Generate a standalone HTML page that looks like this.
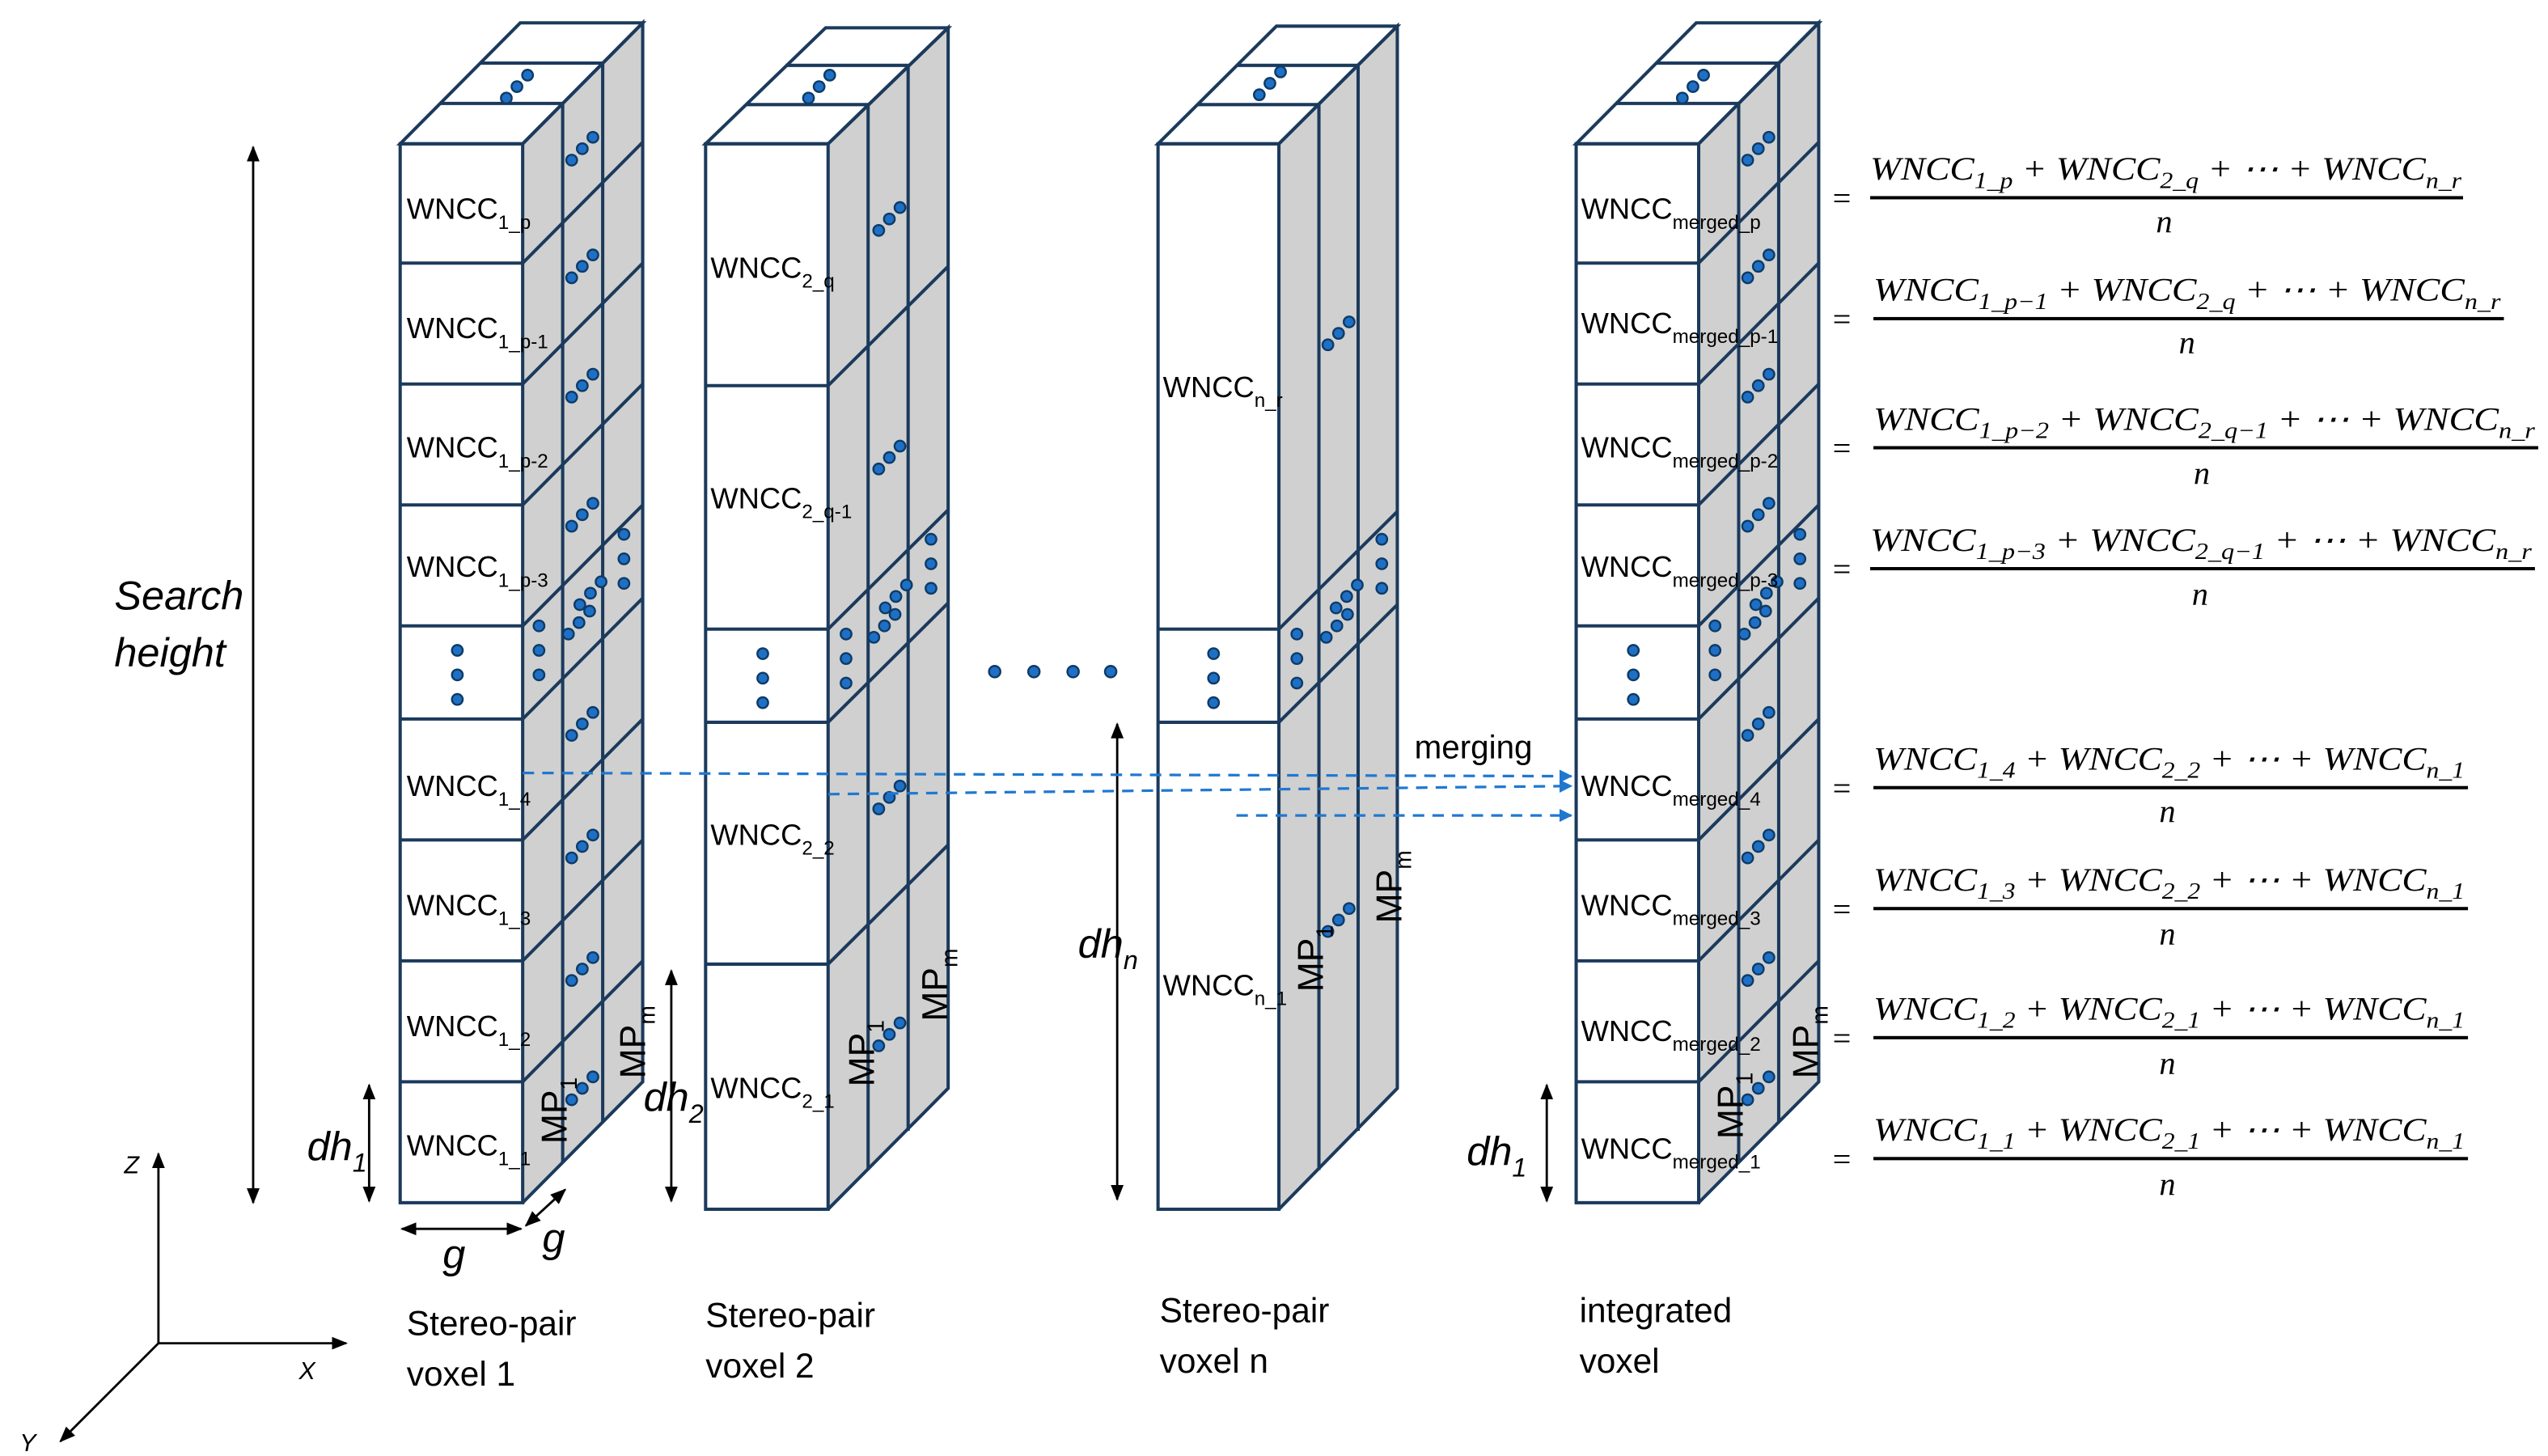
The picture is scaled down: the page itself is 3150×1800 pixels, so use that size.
<!DOCTYPE html>
<html><head><meta charset="utf-8"><style>
html,body{margin:0;padding:0;background:#fff;}
svg{display:block;}
.t{font-family:"Liberation Sans",sans-serif;fill:#000;}
.e{font-family:"Liberation Serif",serif;font-style:italic;fill:#000;}
.ln{stroke:#1b3a5c;stroke-width:2;fill:none;}
</style></head><body>
<svg width="3150" height="1800" viewBox="0 0 1560 891" preserveAspectRatio="none" xmlns="http://www.w3.org/2000/svg">
<defs>
<marker id="ah" viewBox="0 0 10 10" refX="9" refY="5" markerWidth="7" markerHeight="7" orient="auto-start-reverse"><path d="M0,1 L10,5 L0,9 z" fill="#000"/></marker>
<marker id="bh" viewBox="0 0 10 10" refX="9" refY="5" markerWidth="5" markerHeight="5" orient="auto"><path d="M0,0 L10,5 L0,10 z" fill="#1f78d0"/></marker>
<g id="dots3"><circle cx="0" cy="0" r="3.3" fill="#1f6fc5" stroke="#0d3b66" stroke-width="1.2"/><circle cx="6.5" cy="-7" r="3.3" fill="#1f6fc5" stroke="#0d3b66" stroke-width="1.2"/><circle cx="13" cy="-14" r="3.3" fill="#1f6fc5" stroke="#0d3b66" stroke-width="1.2"/></g>
<g id="vdots"><circle cx="0" cy="0" r="3.3" fill="#1f6fc5" stroke="#0d3b66" stroke-width="1.2"/><circle cx="0" cy="15" r="3.3" fill="#1f6fc5" stroke="#0d3b66" stroke-width="1.2"/><circle cx="0" cy="30" r="3.3" fill="#1f6fc5" stroke="#0d3b66" stroke-width="1.2"/></g>
<!-- voxel type A (9 cells) -->
<g id="volA">
<polygon points="320,88 393.5,14 393.5,662 320,736" fill="#d0d0d0"/>
<polygon points="245,88 320,88 393.5,14 318.5,14" fill="#fff"/>
<rect x="245" y="88" width="75" height="648" fill="#fff"/>
<g class="ln">
<polygon points="245,88 320,88 393.5,14 318.5,14"/>
<rect x="245" y="88" width="75" height="648"/>
<polyline points="320,88 393.5,14 393.5,662 320,736"/>
<line x1="269.5" y1="63.3" x2="344.5" y2="63.3"/><line x1="294" y1="38.6" x2="369" y2="38.6"/>
<line x1="344.5" y1="63.3" x2="344.5" y2="711.3"/><line x1="369" y1="38.6" x2="369" y2="686.6"/>
<path d="M245,161H320L393.5,87 M245,235H320L393.5,161 M245,309H320L393.5,235 M245,383H320L393.5,309 M245,440H320L393.5,366 M245,514H320L393.5,440 M245,588H320L393.5,514 M245,662H320L393.5,588"/>
</g>
<use href="#dots3" x="310" y="60"/>
<use href="#dots3" x="350" y="98"/><use href="#dots3" x="350" y="170"/><use href="#dots3" x="350" y="243"/><use href="#dots3" x="350" y="322"/>
<use href="#dots3" x="350" y="450"/><use href="#dots3" x="350" y="525"/><use href="#dots3" x="350" y="600"/><use href="#dots3" x="350" y="673"/>
<use href="#vdots" x="382" y="327"/><use href="#vdots" x="330" y="383"/><use href="#dots3" x="348" y="388"/><use href="#dots3" x="355" y="370"/>
<use href="#vdots" x="280" y="398"/>
</g>
</defs>

<!-- Voxel 1 -->
<use href="#volA"/>
<g class="t" font-size="18">
<text x="249" y="134">WNCC<tspan font-size="12" dy="6">1_p</tspan></text>
<text x="249" y="207">WNCC<tspan font-size="12" dy="6">1_p-1</tspan></text>
<text x="249" y="280">WNCC<tspan font-size="12" dy="6">1_p-2</tspan></text>
<text x="249" y="353">WNCC<tspan font-size="12" dy="6">1_p-3</tspan></text>
<text x="249" y="487">WNCC<tspan font-size="12" dy="6">1_4</tspan></text>
<text x="249" y="560">WNCC<tspan font-size="12" dy="6">1_3</tspan></text>
<text x="249" y="634">WNCC<tspan font-size="12" dy="6">1_2</tspan></text>
<text x="249" y="707">WNCC<tspan font-size="12" dy="6">1_1</tspan></text>
</g>
<g class="t" font-size="22">
<text transform="translate(347,700) rotate(-90)">MP<tspan font-size="14" dy="6">1</tspan></text>
<text transform="translate(395,660) rotate(-90)">MP<tspan font-size="14" dy="6">m</tspan></text>
</g>

<!-- Integrated voxel -->
<use href="#volA" transform="translate(720,0)"/>
<g class="t" font-size="18">
<text x="968" y="134">WNCC<tspan font-size="12" dy="6">merged_p</tspan></text>
<text x="968" y="204">WNCC<tspan font-size="12" dy="6">merged_p-1</tspan></text>
<text x="968" y="280">WNCC<tspan font-size="12" dy="6">merged_p-2</tspan></text>
<text x="968" y="353">WNCC<tspan font-size="12" dy="6">merged_p-3</tspan></text>
<text x="968" y="487">WNCC<tspan font-size="12" dy="6">merged_4</tspan></text>
<text x="968" y="560">WNCC<tspan font-size="12" dy="6">merged_3</tspan></text>
<text x="968" y="637">WNCC<tspan font-size="12" dy="6">merged_2</tspan></text>
<text x="968" y="709">WNCC<tspan font-size="12" dy="6">merged_1</tspan></text>
</g>
<g class="t" font-size="22">
<text transform="translate(1067,697) rotate(-90)">MP<tspan font-size="14" dy="6">1</tspan></text>
<text transform="translate(1113,660) rotate(-90)">MP<tspan font-size="14" dy="6">m</tspan></text>
</g>

<!-- Voxel 2 -->
<g>
<polygon points="507,88 580.5,17 580.5,666 507,740" fill="#d0d0d0"/>
<polygon points="432,88 507,88 580.5,17 505.5,17" fill="#fff"/>
<rect x="432" y="88" width="75" height="652" fill="#fff"/>
<g class="ln">
<polygon points="432,88 507,88 580.5,17 505.5,17"/>
<rect x="432" y="88" width="75" height="652"/>
<polyline points="507,88 580.5,17 580.5,666 507,740"/>
<line x1="456.5" y1="64" x2="531.5" y2="64"/><line x1="481" y1="40" x2="556" y2="40"/>
<line x1="531.5" y1="64" x2="531.5" y2="716"/><line x1="556" y1="40" x2="556" y2="692"/>
<path d="M432,236H507L580.5,163 M432,385H507L580.5,312 M432,442H507L580.5,369 M432,590H507L580.5,517"/>
</g>
<use href="#dots3" x="495" y="60"/>
<use href="#dots3" x="538" y="141"/><use href="#dots3" x="538" y="287"/><use href="#dots3" x="538" y="495"/><use href="#dots3" x="538" y="640"/>
<use href="#vdots" x="570" y="330"/><use href="#vdots" x="518" y="388"/><use href="#dots3" x="535" y="390"/><use href="#dots3" x="542" y="372"/>
<use href="#vdots" x="467" y="400"/>
<g class="t" font-size="18">
<text x="435" y="170">WNCC<tspan font-size="12" dy="6">2_q</tspan></text>
<text x="435" y="311">WNCC<tspan font-size="12" dy="6">2_q-1</tspan></text>
<text x="435" y="517">WNCC<tspan font-size="12" dy="6">2_2</tspan></text>
<text x="435" y="672">WNCC<tspan font-size="12" dy="6">2_1</tspan></text>
</g>
<g class="t" font-size="22">
<text transform="translate(535,665) rotate(-90)">MP<tspan font-size="14" dy="6">1</tspan></text>
<text transform="translate(580,625) rotate(-90)">MP<tspan font-size="14" dy="6">m</tspan></text>
</g>
</g>

<!-- Voxel n -->
<g>
<polygon points="783,88 855.5,16 855.5,666 783,740" fill="#d0d0d0"/>
<polygon points="709,88 783,88 855.5,16 781.5,16" fill="#fff"/>
<rect x="709" y="88" width="74" height="652" fill="#fff"/>
<g class="ln">
<polygon points="709,88 783,88 855.5,16 781.5,16"/>
<rect x="709" y="88" width="74" height="652"/>
<polyline points="783,88 855.5,16 855.5,666 783,740"/>
<line x1="733" y1="64" x2="807.5" y2="64"/><line x1="757.5" y1="40" x2="831.5" y2="40"/>
<line x1="807.5" y1="64" x2="807.5" y2="716"/><line x1="831.5" y1="40" x2="831.5" y2="692"/>
<path d="M709,385H783L855.5,313 M709,442H783L855.5,370"/>
</g>
<use href="#dots3" x="771" y="58"/>
<use href="#dots3" x="813" y="211"/><use href="#dots3" x="813" y="570"/>
<use href="#vdots" x="846" y="330"/><use href="#vdots" x="794" y="388"/><use href="#dots3" x="812" y="390"/><use href="#dots3" x="818" y="372"/>
<use href="#vdots" x="743" y="400"/>
<g class="t" font-size="18">
<text x="712" y="243">WNCC<tspan font-size="12" dy="6">n_r</tspan></text>
<text x="712" y="609">WNCC<tspan font-size="12" dy="6">n_1</tspan></text>
</g>
<g class="t" font-size="22">
<text transform="translate(810,607) rotate(-90)">MP<tspan font-size="14" dy="6">1</tspan></text>
<text transform="translate(858,565) rotate(-90)">MP<tspan font-size="14" dy="6">m</tspan></text>
</g>
</g>

<!-- ellipsis -->
<g fill="#1f6fc5" stroke="#0d3b66" stroke-width="1.2">
<circle cx="609" cy="411" r="3.5"/><circle cx="633" cy="411" r="3.5"/><circle cx="657" cy="411" r="3.5"/><circle cx="680" cy="411" r="3.5"/>
</g>

<!-- dimension arrows -->
<g stroke="#000" stroke-width="1.4" fill="none">
<line x1="155" y1="90" x2="155" y2="736" marker-start="url(#ah)" marker-end="url(#ah)"/>
<line x1="226" y1="664" x2="226" y2="735" marker-start="url(#ah)" marker-end="url(#ah)"/>
<line x1="246" y1="752" x2="319" y2="752" marker-start="url(#ah)" marker-end="url(#ah)"/>
<line x1="322" y1="750" x2="346" y2="728" marker-start="url(#ah)" marker-end="url(#ah)"/>
<line x1="411" y1="594" x2="411" y2="735" marker-start="url(#ah)" marker-end="url(#ah)"/>
<line x1="684" y1="443" x2="684" y2="734" marker-start="url(#ah)" marker-end="url(#ah)"/>
<line x1="947" y1="664" x2="947" y2="735" marker-start="url(#ah)" marker-end="url(#ah)"/>
<line x1="97" y1="822" x2="97" y2="706" marker-end="url(#ah)"/>
<line x1="97" y1="822" x2="212" y2="822" marker-end="url(#ah)"/>
<line x1="97" y1="822" x2="37" y2="882" marker-end="url(#ah)"/>
</g>
<g class="t" font-size="25" font-style="italic">
<text x="70" y="373">Search</text>
<text x="70" y="408">height</text>
<text x="188" y="710">dh<tspan font-size="16" dy="7">1</tspan></text>
<text x="271" y="776">g</text>
<text x="332" y="766">g</text>
<text x="394" y="680">dh<tspan font-size="16" dy="7">2</tspan></text>
<text x="660" y="586">dh<tspan font-size="16" dy="7">n</tspan></text>
<text x="898" y="713">dh<tspan font-size="16" dy="7">1</tspan></text>
</g>
<g class="t" font-size="15" font-style="italic">
<text x="76" y="718">Z</text><text x="183" y="844">X</text><text x="12" y="888">Y</text>
</g>

<!-- merging arrows -->
<g stroke="#1f78d0" stroke-width="1.6" stroke-dasharray="7,5" fill="none">
<line x1="320" y1="473" x2="962" y2="475" marker-end="url(#bh)"/>
<line x1="507" y1="486" x2="962" y2="481" marker-end="url(#bh)"/>
<line x1="757" y1="499" x2="962" y2="499" marker-end="url(#bh)"/>
</g>
<text class="t" x="866" y="464" font-size="20">merging</text>

<!-- captions -->
<g class="t" font-size="21">
<text x="249" y="817">Stereo-pair</text><text x="249" y="848">voxel 1</text>
<text x="432" y="812">Stereo-pair</text><text x="432" y="843">voxel 2</text>
<text x="710" y="809">Stereo-pair</text><text x="710" y="840">voxel n</text>
<text x="967" y="809">integrated</text><text x="967" y="840">voxel</text>
</g>

<!-- equations -->
<g class="e" font-size="20">
<g transform="translate(0,0)">
<text x="1122" y="128" font-style="normal">=</text>
<text x="1145" y="110" textLength="362" lengthAdjust="spacingAndGlyphs">WNCC<tspan font-size="14" dy="5">1_p</tspan><tspan dy="-5"> + WNCC</tspan><tspan font-size="14" dy="5">2_q</tspan><tspan dy="-5"> + ⋯ + WNCC</tspan><tspan font-size="14" dy="5">n_r</tspan></text>
<rect x="1145" y="120" width="363" height="2" fill="#000"/>
<text x="1320" y="142">n</text>
</g>
<g>
<text x="1122" y="202" font-style="normal">=</text>
<text x="1147" y="184" textLength="384" lengthAdjust="spacingAndGlyphs">WNCC<tspan font-size="14" dy="5">1_p−1</tspan><tspan dy="-5"> + WNCC</tspan><tspan font-size="14" dy="5">2_q</tspan><tspan dy="-5"> + ⋯ + WNCC</tspan><tspan font-size="14" dy="5">n_r</tspan></text>
<rect x="1147" y="194" width="386" height="2" fill="#000"/>
<text x="1334" y="216">n</text>
</g>
<g>
<text x="1122" y="281" font-style="normal">=</text>
<text x="1147" y="263" textLength="405" lengthAdjust="spacingAndGlyphs">WNCC<tspan font-size="14" dy="5">1_p−2</tspan><tspan dy="-5"> + WNCC</tspan><tspan font-size="14" dy="5">2_q−1</tspan><tspan dy="-5"> + ⋯ + WNCC</tspan><tspan font-size="14" dy="5">n_r</tspan></text>
<rect x="1147" y="273" width="407" height="2" fill="#000"/>
<text x="1343" y="296">n</text>
</g>
<g>
<text x="1122" y="355" font-style="normal">=</text>
<text x="1145" y="337" textLength="405" lengthAdjust="spacingAndGlyphs">WNCC<tspan font-size="14" dy="5">1_p−3</tspan><tspan dy="-5"> + WNCC</tspan><tspan font-size="14" dy="5">2_q−1</tspan><tspan dy="-5"> + ⋯ + WNCC</tspan><tspan font-size="14" dy="5">n_r</tspan></text>
<rect x="1145" y="347" width="407" height="2" fill="#000"/>
<text x="1342" y="370">n</text>
</g>
<g>
<text x="1122" y="489" font-style="normal">=</text>
<text x="1147" y="471" textLength="362" lengthAdjust="spacingAndGlyphs">WNCC<tspan font-size="14" dy="5">1_4</tspan><tspan dy="-5"> + WNCC</tspan><tspan font-size="14" dy="5">2_2</tspan><tspan dy="-5"> + ⋯ + WNCC</tspan><tspan font-size="14" dy="5">n_1</tspan></text>
<rect x="1147" y="481" width="364" height="2" fill="#000"/>
<text x="1322" y="503">n</text>
</g>
<g>
<text x="1122" y="563" font-style="normal">=</text>
<text x="1147" y="545" textLength="362" lengthAdjust="spacingAndGlyphs">WNCC<tspan font-size="14" dy="5">1_3</tspan><tspan dy="-5"> + WNCC</tspan><tspan font-size="14" dy="5">2_2</tspan><tspan dy="-5"> + ⋯ + WNCC</tspan><tspan font-size="14" dy="5">n_1</tspan></text>
<rect x="1147" y="555" width="364" height="2" fill="#000"/>
<text x="1322" y="578">n</text>
</g>
<g>
<text x="1122" y="642" font-style="normal">=</text>
<text x="1147" y="624" textLength="362" lengthAdjust="spacingAndGlyphs">WNCC<tspan font-size="14" dy="5">1_2</tspan><tspan dy="-5"> + WNCC</tspan><tspan font-size="14" dy="5">2_1</tspan><tspan dy="-5"> + ⋯ + WNCC</tspan><tspan font-size="14" dy="5">n_1</tspan></text>
<rect x="1147" y="634" width="364" height="2" fill="#000"/>
<text x="1322" y="657">n</text>
</g>
<g>
<text x="1122" y="716" font-style="normal">=</text>
<text x="1147" y="698" textLength="362" lengthAdjust="spacingAndGlyphs">WNCC<tspan font-size="14" dy="5">1_1</tspan><tspan dy="-5"> + WNCC</tspan><tspan font-size="14" dy="5">2_1</tspan><tspan dy="-5"> + ⋯ + WNCC</tspan><tspan font-size="14" dy="5">n_1</tspan></text>
<rect x="1147" y="708" width="364" height="2" fill="#000"/>
<text x="1322" y="731">n</text>
</g>
</g>
</svg>
</body></html>
